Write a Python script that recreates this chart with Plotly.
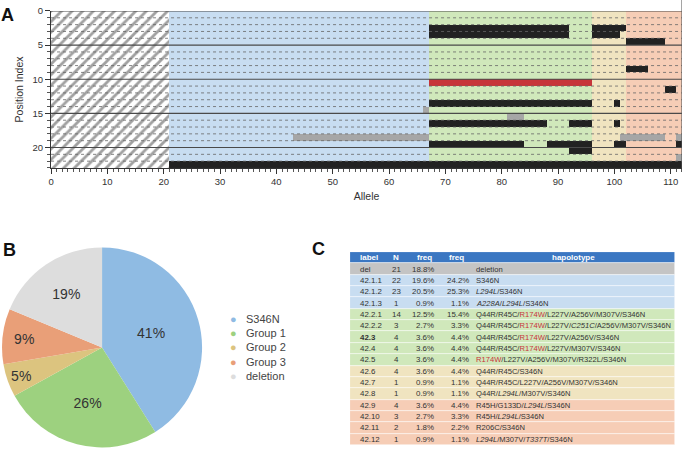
import numpy as np
import plotly.graph_objects as go

# ---------------- data ----------------
hap_labels = ["del", "42.1.1", "42.1.2", "42.1.3", "42.2.1", "42.2.2", "42.3", "42.4",
              "42.5", "42.6", "42.7", "42.8", "42.9", "42.10", "42.11", "42.12"]
hap_counts = [21, 22, 23, 1, 14, 3, 4, 4, 4, 4, 1, 1, 4, 3, 2, 1]
hap_groups = ["deletion", "S346N", "S346N", "S346N", "Group 1", "Group 1", "Group 1", "Group 1",
              "Group 1", "Group 2", "Group 2", "Group 2", "Group 3", "Group 3", "Group 3", "Group 3"]
hap_variants = [
    [],
    ["S346N"],
    ["L294L", "S346N"],
    ["A228A", "L294L", "S346N"],
    ["Q44R", "R45C", "R174W", "L227V", "A256V", "M307V", "S346N"],
    ["Q44R", "R45C", "R174W", "L227V", "C251C", "A256V", "M307V", "S346N"],
    ["Q44R", "R45C", "R174W", "L227V", "A256V", "S346N"],
    ["Q44R", "R45C", "R174W", "L227V", "M307V", "S346N"],
    ["R174W", "L227V", "A256V", "M307V", "R322L", "S346N"],
    ["Q44R", "R45C", "S346N"],
    ["Q44R", "R45C", "L227V", "A256V", "M307V", "S346N"],
    ["Q44R", "L294L", "M307V", "S346N"],
    ["R45H", "G133D", "L294L", "S346N"],
    ["R45H", "L294L", "S346N"],
    ["R206C", "S346N"],
    ["L294L", "M307V", "T337T", "S346N"],
]
bold_labels = ["42.3"]
variant_names = ["Q44R", "R45C", "R45H", "G133D", "R174W", "R206C", "L227V", "A228A",
                 "C251C", "A256V", "L294L", "M307V", "R322L", "T337T", "S346N"]
variant_rows = [2, 3, 4, 8, 10, 11, 13, 14, 15, 16, 18, 19, 20, 21, 22]
n_positions = 23
synonymous = ["A228A", "C251C", "L294L", "T337T"]
highlighted = ["R174W"]

group_names = ["S346N", "Group 1", "Group 2", "Group 3", "deletion"]
table_headers = ["label", "N", "freq", "freq", "hapolotype"]

# ---------------- styles ----------------
pie_colors = {"S346N": "#8fbbe3", "Group 1": "#9dd17f", "Group 2": "#dcc47f",
              "Group 3": "#e99f78", "deletion": "#dddddd"}
bg_colors = {"S346N": "#c8ddf1", "Group 1": "#d0e8bb", "Group 2": "#f0e4c0",
             "Group 3": "#f6cdb6", "deletion": "#c4c4c4"}
header_color = "#3b77c2"
black_c, gray_c, red_c = "#222222", "#a6a6a6", "#c7353a"
text_c = "#333333"
FONT = "Liberation Sans, Arial, sans-serif"

# table column text anchors (in table-width units of 325)
table_width = 325
col_x = [8, 46, 86, 121, 124]
col_align = ["left", "center", "right", "right", "left"]
head_x = [8, 46, 84, 116, 223]
head_align = ["left", "center", "right", "right", "center"]

# ---------------- derived matrix ----------------
n_alleles = sum(hap_counts)
n_del = sum(c for c, g in zip(hap_counts, hap_groups) if g == "deletion")
row_of = dict(zip(variant_names, variant_rows))
bg_code = {"S346N": 0, "Group 1": 1, "Group 2": 2, "Group 3": 3}
z = np.full((n_positions, n_alleles), np.nan)
start = 0
for cnt, grp, vars_ in zip(hap_counts, hap_groups, hap_variants):
    cols = slice(start, start + cnt)
    if grp != "deletion":
        z[:, cols] = bg_code[grp]
        for v in vars_:
            code = 6 if v in highlighted else (5 if v in synonymous else 4)
            z[row_of[v], cols] = code
    start += cnt

cat_colors = [bg_colors["S346N"], bg_colors["Group 1"], bg_colors["Group 2"],
              bg_colors["Group 3"], black_c, gray_c, red_c]
ncat = len(cat_colors)
colorscale = []
for i, c in enumerate(cat_colors):
    colorscale.append([i / ncat, c])
    colorscale.append([(i + 1) / ncat, c])

fig = go.Figure()

# hatched deletion block
fig.add_trace(go.Bar(
    x=[n_del], y=[n_positions / 2], base=[0], width=[n_positions], orientation="h",
    marker=dict(color="white", line=dict(width=0),
                pattern=dict(shape="/", fgcolor="#444444", bgcolor="white", size=7.5, solidity=0.38)),
    showlegend=False, hoverinfo="skip", xaxis="x", yaxis="y"))

fig.add_trace(go.Heatmap(
    z=z, x=np.arange(n_alleles) + 0.5, y=np.arange(n_positions) + 0.5,
    colorscale=colorscale, zmin=-0.5, zmax=ncat - 0.5, showscale=False,
    hoverongaps=False, xaxis="x", yaxis="y"))

# grid lines across the position rows
shapes = []
for r in range(n_positions):
    major = r % 5 == 0
    shapes.append(dict(type="line", xref="x", yref="y", x0=0, x1=n_alleles, y0=r, y1=r,
                       layer="above",
                       line=dict(color="#4a4a4a" if major else "#666666",
                                 width=1.2 if major else 0.8,
                                 dash="solid" if major else "dot")))
shapes.append(dict(type="line", xref="x", yref="paper", x0=n_alleles, x1=n_alleles,
                   y0=0.6267, y1=1.0, layer="above", line=dict(color="#555555", width=1)))

# ---------------- pie ----------------
group_counts = [sum(c for c, g in zip(hap_counts, hap_groups) if g == gn) for gn in group_names]
fig.add_trace(go.Pie(
    labels=group_names, values=group_counts, sort=False, direction="clockwise", rotation=0,
    marker=dict(colors=[pie_colors[g] for g in group_names], line=dict(width=0)),
    texttemplate="%{percent:.0%}", textposition="inside", insidetextorientation="horizontal",
    textfont=dict(size=14, color=text_c, family=FONT),
    domain=dict(x=[0.003, 0.295], y=[0.005, 0.451]), showlegend=False, hoverinfo="label+percent"))

# ---------------- table (rows as bars on hidden axes, text as annotations) ----------------
def fmt_variant(v):
    if v in highlighted:
        return f"<span style='color:{red_c}'>{v}</span>"
    if v in synonymous:
        return f"<i>{v}</i>"
    return v

n_nondel = n_alleles - n_del
col_label = [f"<b>{l}</b>" if l in bold_labels else l for l in hap_labels]
col_n = [str(c) for c in hap_counts]
col_f1 = [f"{100 * c / n_alleles:.1f}%" for c in hap_counts]
col_f2 = ["" if g == "deletion" else f"{100 * c / n_nondel:.1f}%" for c, g in zip(hap_counts, hap_groups)]
col_hap = ["deletion" if g == "deletion" else "/".join(fmt_variant(v) for v in vs)
           for g, vs in zip(hap_groups, hap_variants)]
table_cols = [col_label, col_n, col_f1, col_f2, col_hap]

n_trows = len(hap_labels) + 1
row_idx = list(range(n_trows))
row_fill = [header_color] + [bg_colors[g] for g in hap_groups]
fig.add_trace(go.Bar(
    x=[table_width] * n_trows, y=row_idx, base=0, width=1, orientation="h",
    marker=dict(color=row_fill, line=dict(color="rgba(255,255,255,0.75)", width=0.6)),
    showlegend=False, hoverinfo="skip", xaxis="x2", yaxis="y2"))

ann = []
for j, h in enumerate(table_headers):
    ann.append(dict(text=f"<b>{h}</b>", x=head_x[j], y=0, xref="x2", yref="y2", showarrow=False,
                    xanchor=head_align[j], yanchor="middle",
                    font=dict(size=8, color="white", family=FONT)))
for i in range(len(hap_labels)):
    for j, col in enumerate(table_cols):
        if col[i] == "":
            continue
        ann.append(dict(text=col[i], x=col_x[j], y=i + 1, xref="x2", yref="y2", showarrow=False,
                        xanchor=col_align[j], yanchor="middle",
                        font=dict(size=7.6 if j == 4 else 7.9, color=text_c, family=FONT)))

# ---------------- annotations ----------------
for txt, x, y in [("A", 8, 15), ("B", 9, 250), ("C", 318, 249)]:
    ann.append(dict(text=f"<b>{txt}</b>", x=x / 685, y=1 - y / 450, xref="paper", yref="paper",
                    showarrow=False, font=dict(size=18, color="#111", family=FONT),
                    xanchor="center", yanchor="middle"))
for i, g in enumerate(group_names):
    yy = 1 - (318.7 + 14.3 * i) / 450
    ann.append(dict(text="●", x=233 / 685, y=yy, xref="paper", yref="paper", showarrow=False,
                    font=dict(size=11, color=pie_colors[g], family=FONT), xanchor="center", yanchor="middle"))
    ann.append(dict(text=g, x=244 / 685, y=yy, xref="paper", yref="paper", showarrow=False,
                    font=dict(size=11, color="#444", family=FONT), xanchor="left", yanchor="middle"))

fig.update_layout(
    width=685, height=450, margin=dict(l=0, r=0, t=0, b=0),
    paper_bgcolor="white", plot_bgcolor="white", showlegend=False,
    font=dict(family=FONT, color=text_c),
    xaxis=dict(domain=[0.0745, 0.9956], range=[0, n_alleles], anchor="y", automargin=False,
               tickmode="linear", tick0=0, dtick=10, ticks="outside", ticklen=5, tickwidth=1,
               tickcolor="#333", minor=dict(ticks="outside", ticklen=3, dtick=1, tickcolor="#555"),
               showline=True, linecolor="#333", linewidth=1, showgrid=False, zeroline=False,
               tickfont=dict(size=9.5, color=text_c),
               title=dict(text="Allele", font=dict(size=10.5, color=text_c), standoff=6)),
    yaxis=dict(domain=[0.6267, 0.9756], range=[n_positions, 0], anchor="x", automargin=False,
               tickmode="linear", tick0=0, dtick=5, ticks="outside", ticklen=5, tickwidth=1,
               tickcolor="#333", minor=dict(ticks="outside", ticklen=3, dtick=1, tickcolor="#555"),
               showline=True, linecolor="#333", linewidth=1, showgrid=False, zeroline=False,
               tickfont=dict(size=9.5, color=text_c),
               title=dict(text="Position Index", font=dict(size=10.5, color=text_c), standoff=6)),
    xaxis2=dict(domain=[350 / 685, 675 / 685], range=[0, table_width], anchor="y2",
                visible=False, automargin=False, fixedrange=True),
    yaxis2=dict(domain=[1 - 445 / 450, 1 - 252 / 450], range=[n_trows - 0.5, -0.5], anchor="x2",
                visible=False, automargin=False, fixedrange=True),
    shapes=shapes, annotations=ann, bargap=0)

fig.write_html("out.html", config={"displayModeBar": False},
               post_script="document.body.style.margin='0';document.body.style.overflow='hidden';")
